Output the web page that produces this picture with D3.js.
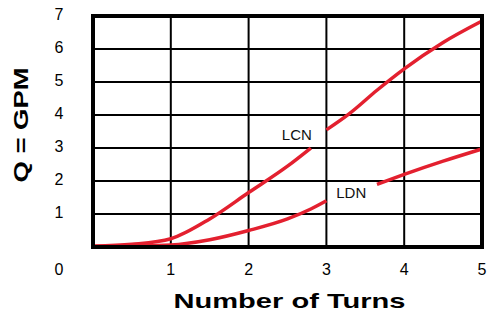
<!DOCTYPE html>
<html lang="en">
<head>
    <meta charset="UTF-8">
    <title>Q vs Number of Turns</title>
    <script src="https://d3js.org/d3.v7.min.js"></script>
    <style>
        body { margin: 0; background: #fff; }
        text { font-family: "Liberation Sans", Arial, sans-serif; }
    </style>
</head>
<body>
    <div id="chart"></div>
    <script>
        // data (null = gap where the label sits)
        const turns = [0, 0.5, 1, 1.5, 2, 2.5, 2.8, 3.0, 3.3, 3.65, 4, 4.5, 5];
        const lcnFlow = [0.02, 0.08, 0.25, 0.85, 1.65, 2.45, 3.0, null, 4.05, 4.75, 5.4, 6.2, 6.85];
        const lcnFlow2 = [null, null, null, null, null, null, null, 3.55, 4.05, 4.75, 5.4, 6.2, 6.85];
        const ldnFlow = [0.02, 0.03, 0.06, 0.22, 0.5, 0.85, 1.15, 1.4, null, null, null, null, null];
        const ldnFlow2 = [null, null, null, null, null, null, null, null, null, 1.9, 2.2, 2.6, 2.97];
        const xTicks = [1, 2, 3, 4, 5];
        const yTicks = [1, 2, 3, 4, 5, 6, 7];
        const labels = [
            { name: "LCN", t: 2.62, q: 3.35 },
            { name: "LDN", t: 3.32, q: 1.6 }
        ];

        const margin = { top: 16, right: 9, bottom: 68, left: 93 },
            width = 491 - margin.left - margin.right,
            height = 315 - margin.top - margin.bottom;

        const svg = d3.select("#chart")
            .append("svg")
            .attr("width", 491)
            .attr("height", 315);

        const g = svg.append("g")
            .attr("transform", `translate(${margin.left}, ${margin.top})`);

        const x = d3.scaleLinear().domain([0, 5]).range([0, width]);
        const y = d3.scaleLinear().domain([0, 7]).range([height, 0]);

        // grid
        g.selectAll("line.vgrid")
            .data(xTicks.slice(0, -1))
            .enter()
            .append("line")
            .attr("class", "vgrid")
            .attr("x1", d => x(d)).attr("x2", d => x(d))
            .attr("y1", 0).attr("y2", height)
            .attr("stroke", "#000")
            .attr("stroke-width", 2);

        g.selectAll("line.hgrid")
            .data(yTicks.slice(0, -1))
            .enter()
            .append("line")
            .attr("class", "hgrid")
            .attr("x1", 0).attr("x2", width)
            .attr("y1", d => y(d)).attr("y2", d => y(d))
            .attr("stroke", "#000")
            .attr("stroke-width", 2);

        // curves
        const line = d3.line()
            .defined(d => d[1] !== null)
            .x(d => x(d[0]))
            .y(d => y(d[1]))
            .curve(d3.curveMonotoneX);

        [lcnFlow.map((q, i) => i < 7 ? q : null), lcnFlow2, ldnFlow, ldnFlow2].forEach(series => {
            g.append("path")
                .datum(turns.map((t, i) => [t, series[i]]))
                .attr("d", line)
                .attr("fill", "none")
                .attr("stroke", "#e3202f")
                .attr("stroke-width", 3.5);
        });

        // frame
        g.append("rect")
            .attr("x", 0).attr("y", 0)
            .attr("width", width).attr("height", height)
            .attr("fill", "none")
            .attr("stroke", "#000")
            .attr("stroke-width", 4);

        // curve labels
        g.selectAll("text.curve-label")
            .data(labels)
            .enter()
            .append("text")
            .attr("class", "curve-label")
            .attr("x", d => x(d.t))
            .attr("y", d => y(d.q))
            .attr("text-anchor", "middle")
            .attr("dominant-baseline", "middle")
            .attr("font-size", "15px")
            .attr("fill", "#111")
            .text(d => d.name);

        // tick labels
        g.selectAll("text.ytick")
            .data(yTicks)
            .enter()
            .append("text")
            .attr("class", "ytick")
            .attr("x", -34)
            .attr("y", d => y(d))
            .attr("text-anchor", "middle")
            .attr("dominant-baseline", "middle")
            .attr("font-size", "16px")
            .text(d => d);

        g.selectAll("text.xtick")
            .data(xTicks)
            .enter()
            .append("text")
            .attr("class", "xtick")
            .attr("x", d => x(d))
            .attr("y", height + 24)
            .attr("text-anchor", "middle")
            .attr("dominant-baseline", "middle")
            .attr("font-size", "16px")
            .text(d => d);

        // shared origin label
        g.append("text")
            .attr("x", -34)
            .attr("y", height + 24)
            .attr("text-anchor", "middle")
            .attr("dominant-baseline", "middle")
            .attr("font-size", "16px")
            .text("0");

        // axis titles
        svg.append("text")
            .attr("x", margin.left + width / 2 + 2)
            .attr("y", 308)
            .attr("text-anchor", "middle")
            .attr("font-size", "21px")
            .attr("font-weight", "bold")
            .attr("textLength", 232)
            .attr("lengthAdjust", "spacingAndGlyphs")
            .text("Number of Turns");

        svg.append("text")
            .attr("transform", "translate(28, 125) rotate(-90)")
            .attr("text-anchor", "middle")
            .attr("font-size", "21px")
            .attr("font-weight", "bold")
            .attr("textLength", 115)
            .attr("lengthAdjust", "spacingAndGlyphs")
            .text("Q = GPM");
    </script>
</body>
</html>
